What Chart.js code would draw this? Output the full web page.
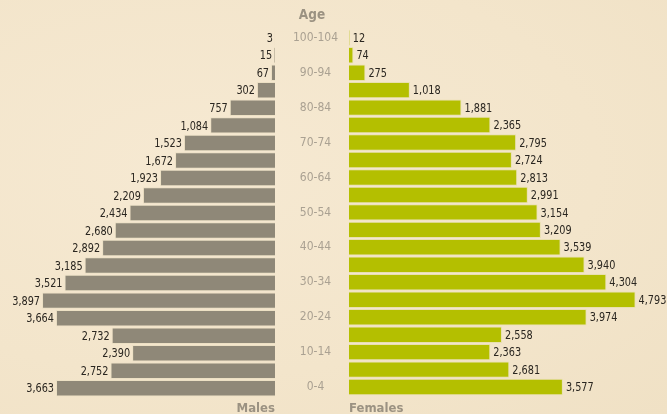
<!DOCTYPE html>
<html>
<head>
<meta charset="utf-8">
<script src="https://cdn.jsdelivr.net/npm/chart.js@4.4.1/dist/chart.umd.min.js"></script>
<style>
  html, body { margin:0; padding:0; }
  body { width:667px; height:414px; overflow:hidden; position:relative;
         background: radial-gradient(ellipse at 30% 40%, #f6e9d2 0%, #f3e5cb 60%, #f0e1c5 100%); }
  #wrapL { position:absolute; left:0; top:0; width:275px; height:414px; }
  #wrapR { position:absolute; left:275px; top:0; width:392px; height:414px; }
  .lbl { position:absolute; font-family:"DejaVu Sans Condensed","Liberation Sans Narrow",sans-serif;
         font-weight:bold; font-size:13px; color:#9b9282; line-height:1; }
</style>
</head>
<body>
<div id="wrapL"><canvas id="male"></canvas></div>
<div id="wrapR"><canvas id="female"></canvas></div>
<div class="lbl" style="left:0;width:624px;text-align:center;top:8px;font-size:13.5px;">Age</div>
<div class="lbl" style="right:392px;top:401px;">Males</div>
<div class="lbl" style="left:349px;top:401px;">Females</div>
<script>
const ageGroups = ["100-104","95-99","90-94","85-89","80-84","75-79","70-74","65-69","60-64","55-59","50-54","45-49","40-44","35-39","30-34","25-29","20-24","15-19","10-14","5-9","0-4"];
const males   = [3,15,67,302,757,1084,1523,1672,1923,2209,2434,2680,2892,3185,3521,3897,3664,2732,2390,2752,3663];
const females = [12,74,275,1018,1881,2365,2795,2724,2813,2991,3154,3209,3539,3940,4304,4793,3974,2558,2363,2681,3577];

const FONT = '"DejaVu Sans Condensed","Liberation Sans Narrow",sans-serif';
const fmt = v => v.toLocaleString('en-US');

const valueLabels = {
  id: 'valueLabels',
  afterDatasetsDraw(chart, args, opts) {
    const ctx = chart.ctx;
    const meta = chart.getDatasetMeta(0);
    const data = chart.data.datasets[0].data;
    ctx.save();
    ctx.font = '12px ' + FONT;
    ctx.fillStyle = '#2a2620';
    ctx.textBaseline = 'middle';
    meta.data.forEach((bar, i) => {
      const v = fmt(data[i]);
      ctx.save();
      if (opts.side === 'left') {
        ctx.translate(bar.x - 2, bar.y + 1);
        ctx.scale(0.9, 1);
        ctx.textAlign = 'right';
      } else {
        ctx.translate(bar.x + 3, bar.y + 1);
        ctx.scale(0.9, 1);
        ctx.textAlign = 'left';
      }
      ctx.fillText(v, 0, 0);
      ctx.restore();
    });
    ctx.restore();
  }
};

const common = (max, reverse) => ({
  responsive: true,
  maintainAspectRatio: false,
  animation: false,
  indexAxis: 'y',
  plugins: { legend: { display:false }, tooltip: { enabled:false } },
  scales: {
    x: { display:false, min:0, max:max, reverse:reverse }
  }
});

const optL = common(4600, true);
optL.layout = { padding: { top:29, bottom:17, left:0, right:0 } };
optL.scales.y = { display:false };
optL.plugins.valueLabels = { side:'left' };

new Chart(document.getElementById('male'), {
  type: 'bar',
  data: { labels: ageGroups, datasets: [{
    data: males, backgroundColor:'#8f8878', borderColor:'#ece0c4', borderWidth:1,
    barPercentage:0.94, categoryPercentage:1 }] },
  options: optL,
  plugins: [valueLabels]
});

const optR = common(5318, false);
optR.layout = { padding: { top:29, bottom:17, left:0, right:0 } };
optR.scales.y = {
  display: true,
  position: 'left',
  grid: { display:false, drawTicks:false },
  border: { display:false },
  ticks: {
    autoSkip: false,
    crossAlign: 'center',
    padding: 11,
    color: '#aaa192',
    font: { family: FONT, size: 12 },
    callback: function(val, idx) { return idx % 2 === 0 ? ageGroups[idx] : ''; }
  },
  afterFit: function(scale) { scale.width = 74; }
};
optR.plugins.valueLabels = { side:'right' };

new Chart(document.getElementById('female'), {
  type: 'bar',
  data: { labels: ageGroups, datasets: [{
    data: females, backgroundColor:'#b4bf00', borderColor:'#e9e0b0', borderWidth:1,
    barPercentage:0.94, categoryPercentage:1 }] },
  options: optR,
  plugins: [valueLabels]
});
</script>
</body>
</html>
